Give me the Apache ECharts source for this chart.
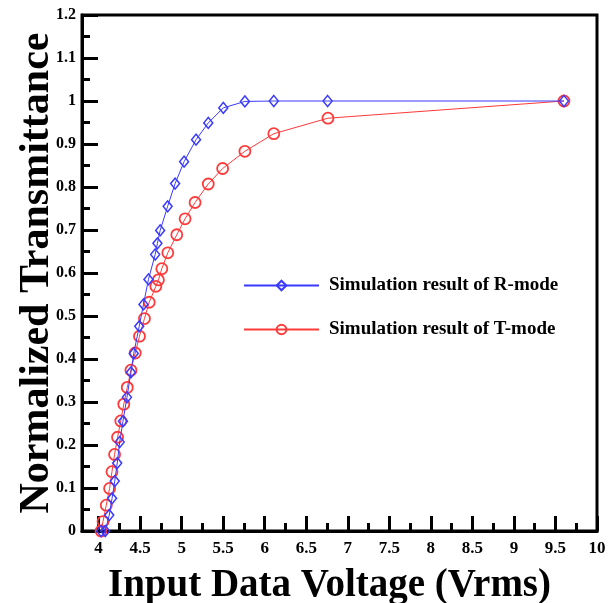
<!DOCTYPE html>
<html><head><meta charset="utf-8">
<script src="https://cdn.jsdelivr.net/npm/echarts@6/dist/echarts.min.js"></script>
<style>html,body{margin:0;padding:0;background:#fff}#c{width:609px;height:603px}</style>
</head><body><div id="c"></div>
<script>
const rModeX = [4.03, 4.08, 4.128, 4.162, 4.194, 4.224, 4.254, 4.293, 4.341, 4.389, 4.423, 4.489, 4.540, 4.600, 4.681, 4.708, 4.741, 4.831, 4.921, 5.029, 5.173, 5.320, 5.501, 5.761, 6.109, 6.757, 9.602];
const rModeY = [0.0, 0.0, 0.037, 0.076, 0.116, 0.158, 0.207, 0.255, 0.311, 0.369, 0.413, 0.476, 0.527, 0.585, 0.643, 0.669, 0.699, 0.755, 0.808, 0.859, 0.910, 0.949, 0.984, 0.999, 1.0, 1.0, 1.0];
const tModeX = [4.029, 4.053, 4.092, 4.132, 4.161, 4.192, 4.228, 4.267, 4.303, 4.345, 4.389, 4.441, 4.492, 4.552, 4.609, 4.689, 4.720, 4.761, 4.833, 4.941, 5.041, 5.161, 5.320, 5.493, 5.761, 6.109, 6.761, 9.602];
const tModeY = [0.0, 0.022, 0.060, 0.099, 0.138, 0.178, 0.218, 0.256, 0.295, 0.334, 0.374, 0.414, 0.453, 0.494, 0.532, 0.569, 0.584, 0.610, 0.647, 0.689, 0.726, 0.764, 0.807, 0.843, 0.883, 0.924, 0.960, 1.0];
const xMajorTicks = [4, 4.5, 5, 5.5, 6, 6.5, 7, 7.5, 8, 8.5, 9, 9.5, 10];
const xMinorTicks = [4.25, 4.75, 5.25, 5.75, 6.25, 6.75, 7.25, 7.75, 8.25, 8.75, 9.25, 9.75];
const seriesNames = ['Simulation result of R-mode', 'Simulation result of T-mode'];

const FONT = '"Liberation Serif", "Times New Roman", serif';
const BLUE = '#3a3aff';
const RED = '#ff3a3a';
const zip = (xs, ys) => xs.map((x, i) => [x, ys[i]]);

const chart = echarts.init(document.getElementById('c'), null, {renderer: 'canvas'});
chart.setOption({
  backgroundColor: '#fff',
  animation: false,
  grid: {left: 82, right: 12, top: 15, bottom: 72, containLabel: false, outerBoundsMode: 'none',
         show: true, borderColor: '#000', borderWidth: 3, backgroundColor: 'transparent'},
  legend: {
    orient: 'vertical', left: 238, top: 271, padding: 5, itemWidth: 75, itemHeight: 12, itemGap: 25,
    textStyle: {fontFamily: FONT, fontWeight: 'bold', fontSize: 19, color: '#000', padding: [0, 0, 0, 5]},
    data: seriesNames
  },
  xAxis: [{
    type: 'value', min: 3.8, max: 10, position: 'bottom',
    name: 'Input Data Voltage (Vrms)', nameLocation: 'middle', nameGap: 35,
    nameTextStyle: {fontFamily: FONT, fontWeight: 'bold', fontSize: 39, color: '#000', padding: [0, 20, 0, 0]},
    axisLine: {show: true, lineStyle: {color: '#000', width: 3}},
    axisTick: {show: true, inside: true, length: 15, customValues: xMajorTicks, lineStyle: {color: '#000', width: 3}},
    axisLabel: {show: true, customValues: xMajorTicks, margin: 9, fontFamily: FONT, fontWeight: 'bold', fontSize: 17, color: '#000'},
    splitLine: {show: false}
  }, {
    type: 'value', min: 3.8, max: 10, position: 'bottom', offset: 0,
    axisLine: {show: false},
    axisTick: {show: true, inside: true, length: 8, customValues: xMinorTicks, lineStyle: {color: '#000', width: 3}},
    axisLabel: {show: false},
    splitLine: {show: false}
  }],
  yAxis: {
    type: 'value', min: 0, max: 1.2, interval: 0.1,
    name: 'Normalized Transmittance', nameLocation: 'middle', nameGap: 24, nameMoveOverlap: false,
    nameTextStyle: {fontFamily: FONT, fontWeight: 'bold', fontSize: 42, color: '#000'},
    axisLine: {show: true, lineStyle: {color: '#000', width: 3}},
    axisTick: {show: true, inside: true, length: 16, lineStyle: {color: '#000', width: 3}},
    minorTick: {show: true, splitNumber: 2, length: 8, lineStyle: {color: '#000', width: 3}},
    axisLabel: {margin: 6, fontFamily: FONT, fontWeight: 'bold', fontSize: 16, color: '#000'},
    splitLine: {show: false}
  },
  series: [{
    name: seriesNames[0], type: 'line', data: zip(rModeX, rModeY),
    symbol: 'diamond', symbolSize: [9, 11], clip: false,
    lineStyle: {color: BLUE, width: 1},
    itemStyle: {color: 'rgba(255,255,255,0)', borderColor: BLUE, borderWidth: 1.5},
    z: 3
  }, {
    name: seriesNames[1], type: 'line', data: zip(tModeX, tModeY),
    symbol: 'circle', symbolSize: 11, clip: false,
    lineStyle: {color: RED, width: 1},
    itemStyle: {color: 'rgba(255,255,255,0)', borderColor: RED, borderWidth: 1.8},
    z: 2
  }]
});
</script></body></html>
